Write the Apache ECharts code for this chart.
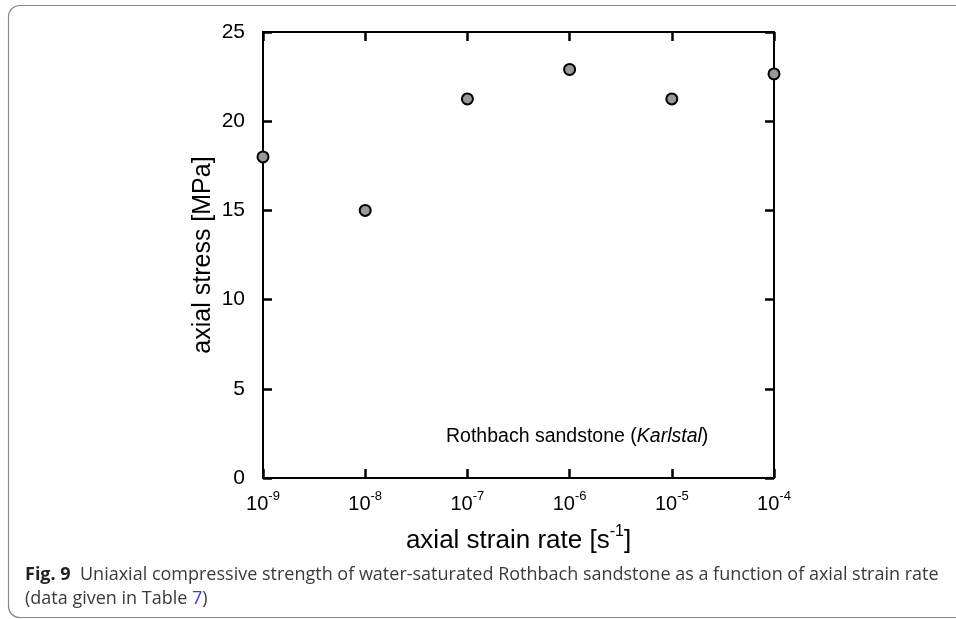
<!DOCTYPE html>
<html>
<head>
<meta charset="utf-8">
<script src="https://cdn.jsdelivr.net/npm/echarts@6/dist/echarts.min.js"></script>
<style>
html,body{margin:0;padding:0;background:#fff;}
#chart{width:956px;height:619px;}
</style>
</head>
<body>
<div id="chart"></div>
<script>
// Data
const strainRates = [1e-9, 1e-8, 1e-7, 1e-6, 1e-5, 1e-4];
const axialStress = [18.0, 15.0, 21.25, 22.9, 21.25, 22.65];
const yTicks = [0, 5, 10, 15, 20, 25];
const xTickExponents = [-9, -8, -7, -6, -5, -4];

const points = strainRates.map((x, i) => [x, axialStress[i]]);
const FONT = '"Liberation Sans", Arial, sans-serif';
const CAPFONT = '"Open Sans", sans-serif';

const chart = echarts.init(document.getElementById('chart'), null, {renderer: 'canvas'});

const axisLine = {show: true, onZero: false, lineStyle: {color: '#000', width: 2}};
const axisTick = {show: true, inside: true, length: 9, lineStyle: {color: '#000', width: 2.5}};

const option = {
  animation: false,
  backgroundColor: '#fff',
  grid: {left: 263, right: 182, top: 32, bottom: 141, containLabel: false},
  xAxis: [
    {
      type: 'log', logBase: 10, min: 1e-9, max: 1e-4, interval: 1,
      position: 'bottom',
      axisLine: axisLine, axisTick: axisTick, splitLine: {show: false},
      axisLabel: {
        margin: 12,
        formatter: function (v) {
          const e = Math.round(Math.log10(v));
          return '{b|10}{s|' + e + '}';
        },
        rich: {
          b: {fontSize: 20, fontFamily: FONT, color: '#000', lineHeight: 24, verticalAlign: 'bottom'},
          s: {fontSize: 13, fontFamily: FONT, color: '#000', lineHeight: 24, verticalAlign: 'top'}
        }
      },
      name: '{b|axial strain rate [s}{s|-1}{b|]}',
      nameLocation: 'middle', nameGap: 46, nameMoveOverlap: false,
      nameTextStyle: {
        rich: {
          b: {fontSize: 26, fontFamily: FONT, color: '#000', lineHeight: 30, verticalAlign: 'bottom'},
          s: {fontSize: 16, fontFamily: FONT, color: '#000', lineHeight: 30, verticalAlign: 'top'}
        }
      }
    },
    {
      type: 'log', logBase: 10, min: 1e-9, max: 1e-4, interval: 1,
      position: 'top',
      axisLine: axisLine, axisTick: axisTick, splitLine: {show: false},
      axisLabel: {show: false}
    }
  ],
  yAxis: [
    {
      type: 'value', min: 0, max: 25, interval: 5,
      position: 'left',
      axisLine: axisLine, axisTick: axisTick, splitLine: {show: false},
      axisLabel: {margin: 18, fontSize: 21, fontFamily: FONT, color: '#000'},
      name: 'axial stress [MPa]',
      nameLocation: 'middle', nameGap: 47, nameRotate: 90, nameMoveOverlap: false,
      nameTextStyle: {fontSize: 25, fontFamily: FONT, color: '#000'}
    },
    {
      type: 'value', min: 0, max: 25, interval: 5,
      position: 'right',
      axisLine: axisLine, axisTick: axisTick, splitLine: {show: false},
      axisLabel: {show: false}
    }
  ],
  series: [{
    type: 'scatter',
    xAxisIndex: 0, yAxisIndex: 0,
    data: points,
    symbol: 'circle',
    symbolSize: 11,
    itemStyle: {color: '#999999', borderColor: '#000', borderWidth: 2, opacity: 1},
    clip: false,
    z: 10
  }],
  graphic: [
    {
      type: 'rect', silent: true,
      shape: {x: 8.5, y: 5.5, width: 1000, height: 612, r: 11},
      style: {fill: 'none', stroke: '#8a8a8a', lineWidth: 1.2}
    },
    {
      type: 'text', x: 446, y: 427,
      style: {
        text: '{n|Rothbach sandstone (}{i|Karlstal}{n|)}',
        rich: {
          n: {fontSize: 19.5, fontFamily: FONT, fill: '#000'},
          i: {fontSize: 19.5, fontFamily: FONT, fontStyle: 'italic', fill: '#000'}
        }
      }
    },
    {
      type: 'text', x: 25, y: 566, scaleX: 1.0,
      style: {
        text: '{f|Fig. 9}{t|  Uniaxial compressive strength of water-saturated Rothbach sandstone as a function of axial strain rate}',
        rich: {
          f: {fontSize: 18, fontFamily: CAPFONT, fontWeight: 'bold', fill: '#222'},
          t: {fontSize: 18, fontFamily: CAPFONT, fill: '#3a3a3a'}
        }
      }
    },
    {
      type: 'text', x: 25, y: 590, scaleX: 1.0,
      style: {
        text: '{t|(data given in Table }{l|7}{t|)}',
        rich: {
          t: {fontSize: 18, fontFamily: CAPFONT, fill: '#3a3a3a'},
          l: {fontSize: 18, fontFamily: CAPFONT, fill: '#3a3ae8'}
        }
      }
    }
  ]
};
chart.setOption(option);
</script>
</body>
</html>
